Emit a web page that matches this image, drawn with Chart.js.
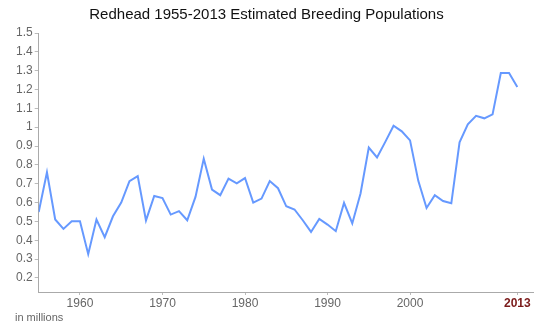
<!DOCTYPE html>
<html>
<head>
<meta charset="utf-8">
<script src="https://cdn.jsdelivr.net/npm/chart.js@4"></script>
<style>
  html, body { margin: 0; padding: 0; background: #fff; }
  #wrap { width: 550px; height: 328px; position: relative; }
</style>
</head>
<body>
<div id="wrap"><canvas id="redheadChart"></canvas></div>
<script>
// Redhead breeding population estimates (millions)
const years = [
    1955, 1956, 1957, 1958, 1959, 1960, 1961, 1962, 1963, 1964,
    1965, 1966, 1967, 1968, 1969, 1970, 1971, 1972, 1973, 1974,
    1975, 1976, 1977, 1978, 1979, 1980, 1981, 1982, 1983, 1984,
    1985, 1986, 1987, 1988, 1989, 1990, 1991, 1992, 1993, 1994,
    1995, 1996, 1997, 1998, 1999, 2000, 2001, 2002, 2003, 2004,
    2005, 2006, 2007, 2008, 2009, 2010, 2011, 2012, 2013
];
const population = [
    0.55, 0.76, 0.51, 0.46, 0.50, 0.50, 0.326, 0.51, 0.416, 0.527,
    0.60, 0.713, 0.74, 0.505, 0.635, 0.624, 0.536, 0.554, 0.506, 0.63,
    0.833, 0.669, 0.639, 0.727, 0.702, 0.73, 0.60, 0.621, 0.714, 0.676,
    0.58, 0.563, 0.506, 0.444, 0.513, 0.483, 0.448, 0.598, 0.489, 0.648,
    0.892, 0.839, 0.922, 1.008, 0.978, 0.93, 0.715, 0.571, 0.639, 0.608,
    0.596, 0.92, 1.015, 1.06, 1.047, 1.068, 1.288, 1.288, 1.213
];
const xTicks = [1960, 1970, 1980, 1990, 2000, 2013];
const yTicks = [0.2, 0.3, 0.4, 0.5, 0.6, 0.7, 0.8, 0.9, 1.0, 1.1, 1.2, 1.3, 1.4, 1.5];
const highlightYear = 2013;

const points = years.map((y, i) => ({ x: y, y: population[i] }));

// small footnote under the axis
const unitsNote = {
    id: 'unitsNote',
    afterDraw(chart) {
        const c = chart.ctx;
        c.save();
        c.font = '11px "Liberation Sans", Arial, sans-serif';
        c.fillStyle = '#666';
        c.textBaseline = 'middle';
        c.fillText('in millions', 15, 318);
        c.restore();
    }
};

const ctx = document.getElementById('redheadChart').getContext('2d');
new Chart(ctx, {
    type: 'line',
    data: {
        datasets: [{
            label: 'Redhead',
            data: points,
            borderColor: '#6699ff',
            borderWidth: 2,
            pointRadius: 0,
            tension: 0,
            fill: false
        }]
    },
    options: {
        responsive: true,
        maintainAspectRatio: false,
        animation: false,
        layout: {
            padding: { left: 0, right: 17, top: 0, bottom: 20 }
        },
        plugins: {
            legend: { display: false },
            tooltip: { enabled: false },
            title: {
                display: true,
                text: 'Redhead 1955-2013 Estimated Breeding Populations',
                color: '#111',
                font: { family: '"Liberation Sans", Arial, sans-serif', size: 15, weight: 'normal' },
                padding: { top: 6, bottom: 9 }
            }
        },
        scales: {
            x: {
                type: 'linear',
                min: 1955,
                max: 2014.9,
                afterBuildTicks: function (scale) {
                    scale.ticks = xTicks.map(v => ({ value: v }));
                },
                afterFit: function (scale) {
                    scale.height = 16;
                },
                grid: { drawOnChartArea: false, drawTicks: true, tickLength: 3, color: '#bbb' },
                border: { color: '#aaa', width: 1 },
                ticks: {
                    autoSkip: false,
                    maxRotation: 0,
                    padding: 1,
                    color: function (c) {
                        return c.tick && c.tick.value === highlightYear ? '#7a1a1a' : '#666';
                    },
                    font: function (c) {
                        const bold = c.tick && c.tick.value === highlightYear;
                        return { family: '"Liberation Sans", Arial, sans-serif', size: 12, weight: bold ? 'bold' : 'normal' };
                    },
                    callback: function (value) {
                        return String(value);
                    }
                }
            },
            y: {
                type: 'linear',
                min: 0.125,
                max: 1.5,
                afterBuildTicks: function (scale) {
                    scale.ticks = yTicks.map(v => ({ value: v }));
                },
                afterFit: function (scale) {
                    scale.width = 38.7;
                },
                grid: { drawOnChartArea: false, drawTicks: true, tickLength: 4, color: '#bbb' },
                border: { color: '#aaa', width: 1 },
                ticks: {
                    padding: 2,
                    color: '#666',
                    font: { family: '"Liberation Sans", Arial, sans-serif', size: 12 },
                    callback: function (value) {
                        return String(Number(value.toFixed(1)));
                    }
                }
            }
        }
    },
    plugins: [unitsNote]
});
</script>
</body>
</html>
